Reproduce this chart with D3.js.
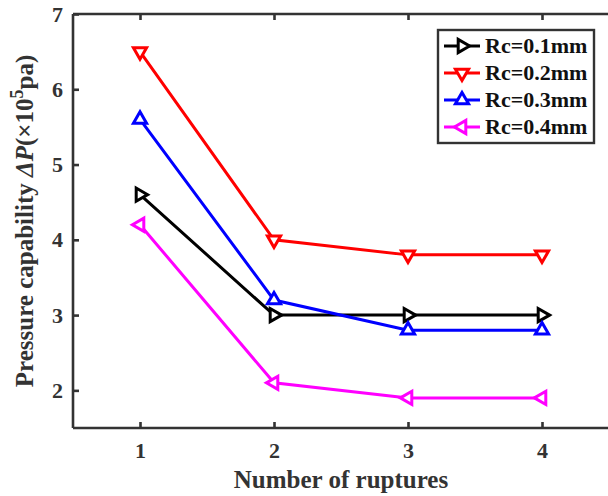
<!DOCTYPE html>
<html>
<head>
<meta charset="utf-8">
<script src="https://cdn.jsdelivr.net/npm/d3@7"></script>
<style>
  body { margin: 0; background: #fff; }
  text { font-family: "Liberation Serif", "Times New Roman", serif; font-weight: bold; fill: #333; }
</style>
</head>
<body>
<svg id="chart" width="608" height="496"></svg>
<script>
var ruptures = [1, 2, 3, 4];
var seriesNames = ["Rc=0.1mm", "Rc=0.2mm", "Rc=0.3mm", "Rc=0.4mm"];
var rc01 = [4.6, 3.0, 3.0, 3.0];
var rc02 = [6.5, 4.0, 3.8, 3.8];
var rc03 = [5.6, 3.2, 2.8, 2.8];
var rc04 = [4.2, 2.1, 1.9, 1.9];
var yTicks = [2, 3, 4, 5, 6, 7];

var colors = ["#000000", "#ff0000", "#0000ff", "#ff00ff"];
var rotations = [90, 180, 0, -90]; // right, down, up, left triangles
var allSeries = [rc01, rc02, rc03, rc04];

var svg = d3.select("#chart"),
    margin = {top: 14, right: 0, bottom: 68, left: 73},
    width = 609 - margin.left,
    height = 428 - margin.top;

var x = d3.scaleLinear().domain([0.5, 4.5]).range([0, width]),
    y = d3.scaleLinear().domain([1.5, 7]).range([height, 0]);

var g = svg.append("g")
    .attr("transform", "translate(" + margin.left + "," + margin.top + ")");

// lines
var line = d3.line()
    .x(function (d, i) { return x(ruptures[i]); })
    .y(function (d) { return y(d); });

var tri = d3.symbol().type(d3.symbolTriangle).size(75);

allSeries.forEach(function (s, k) {
    g.append("path")
        .datum(s)
        .attr("fill", "none")
        .attr("stroke", colors[k])
        .attr("stroke-width", 3)
        .attr("d", line);
    g.selectAll(".m" + k)
        .data(s)
        .enter()
        .append("path")
        .attr("class", "m" + k)
        .attr("d", tri)
        .attr("fill", "#fff")
        .attr("stroke", colors[k])
        .attr("stroke-width", 3)
        .attr("transform", function (d, i) {
            return "translate(" + x(ruptures[i]) + "," + y(d) + ") rotate(" + rotations[k] + ")";
        });
});

// axes
var axisColor = "#333";
var xAxis = g.append("g")
    .attr("transform", "translate(0," + height + ")")
    .call(d3.axisBottom(x).tickValues(ruptures).tickSize(-6).tickPadding(14).tickFormat(d3.format("d")));
var xTop = g.append("g")
    .call(d3.axisTop(x).tickValues(ruptures).tickSize(-6).tickFormat(""));
var yAxis = g.append("g")
    .call(d3.axisLeft(y).tickValues(yTicks).tickSize(-6).tickPadding(10).tickFormat(d3.format("d")));

[xAxis, xTop, yAxis].forEach(function (a) {
    a.select(".domain").attr("stroke", axisColor).attr("stroke-width", 2.6);
    a.selectAll(".tick line").attr("stroke", axisColor).attr("stroke-width", 2.6);
    a.selectAll(".tick text")
        .attr("fill", axisColor)
        .style("font-family", "Liberation Serif, serif")
        .style("font-weight", "bold")
        .style("font-size", "22px");
});
xAxis.select(".domain").attr("d", "M0,0H" + width);
xTop.select(".domain").attr("d", "M0,0H" + width);
yAxis.select(".domain").attr("d", "M0," + height + "V0");

// axis titles
svg.append("text")
    .attr("x", margin.left + x(2.5))
    .attr("y", 488)
    .attr("text-anchor", "middle")
    .style("font-size", "25px")
    .text("Number of ruptures");

var yl = svg.append("text")
    .attr("transform", "translate(33," + (margin.top + height / 2) + ") rotate(-90)")
    .attr("text-anchor", "middle")
    .style("font-size", "25px");
yl.append("tspan").text("Pressure capability ");
yl.append("tspan").style("font-style", "italic").text("ΔP");
yl.append("tspan").text("(×10");
yl.append("tspan").attr("dy", -10).style("font-size", "18px").text("5");
yl.append("tspan").attr("dy", 10).text("pa)");

// legend
var legend = svg.append("g").attr("transform", "translate(438,30)");
legend.append("rect")
    .attr("width", 156).attr("height", 113)
    .attr("fill", "#fff")
    .attr("stroke", axisColor)
    .attr("stroke-width", 2.4);
seriesNames.forEach(function (name, k) {
    var ry = 16 + k * 27;
    legend.append("line")
        .attr("x1", 6).attr("x2", 42).attr("y1", ry).attr("y2", ry)
        .attr("stroke", colors[k]).attr("stroke-width", 3);
    legend.append("path")
        .attr("d", tri)
        .attr("fill", "#fff")
        .attr("stroke", colors[k])
        .attr("stroke-width", 3)
        .attr("transform", "translate(24," + ry + ") rotate(" + rotations[k] + ")");
    legend.append("text")
        .attr("x", 47).attr("y", ry + 7)
        .style("font-size", "22px")
        .style("fill", "#111")
        .text(name);
});
</script>
</body>
</html>
